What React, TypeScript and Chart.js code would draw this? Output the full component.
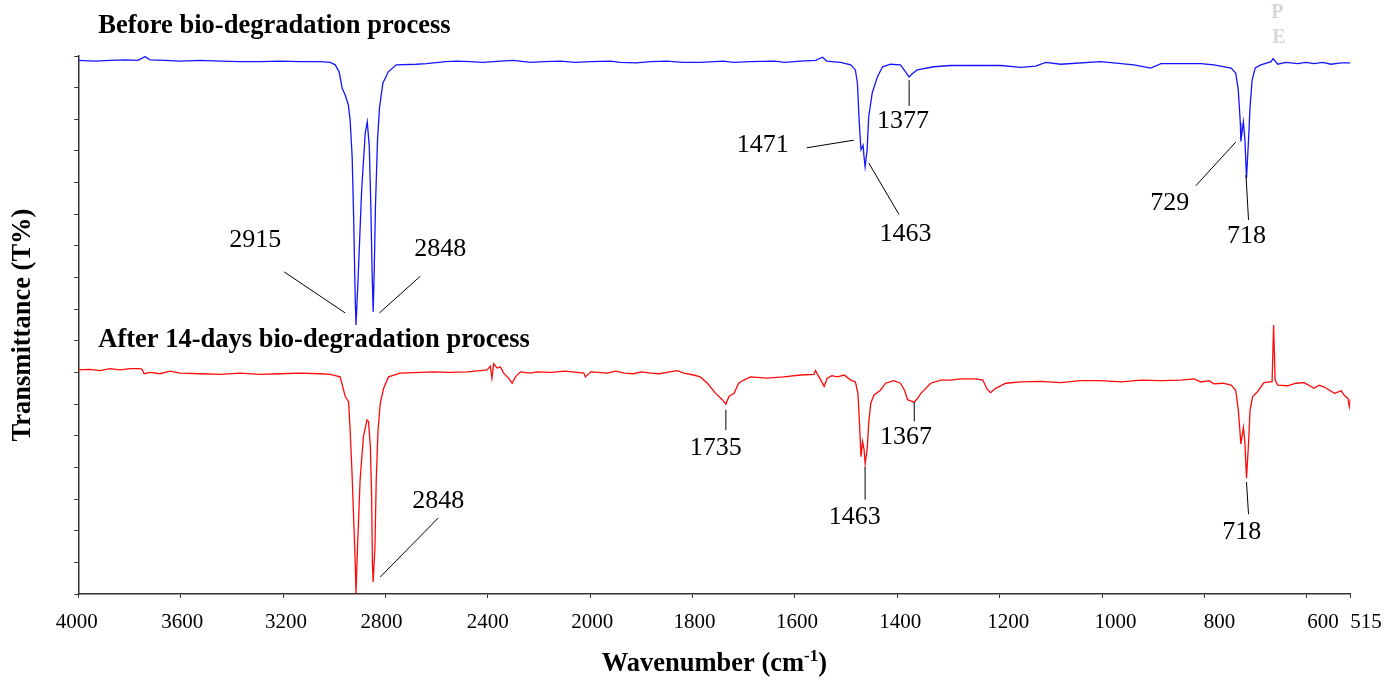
import React, { useEffect, useRef } from "react";
import { Chart, registerables } from "chart.js";

Chart.register(...registerables);

const SERIF = '"Liberation Serif", "Times New Roman", Times, serif';

// FTIR wavenumber axis: 4000–2000 cm-1 is drawn at half the scale of 2000–515 cm-1
const SPLIT = 2000;
const toAxis = (w: number) => (w >= SPLIT ? 4000 - w : 2000 + (SPLIT - w) * 2);
const fromAxis = (u: number) => (u <= 2000 ? 4000 - u : SPLIT - (u - 2000) / 2);

const xTickLabels = [4000, 3600, 3200, 2800, 2400, 2000, 1800, 1600, 1400, 1200, 1000, 800, 600, 515];
// horizontal nudge (px) of each tick label relative to its tick mark
const xTickLabelNudge = [-1.5, 1.5, 3, -4, 0, 2, 2, 2, 3, 8.5, 13.5, 15, 16, 15.5];

const panelTitles = ["Before bio-degradation process", "After 14-days bio-degradation process"];

// Spectrum before bio-degradation (wavenumber, transmittance)
const beforeWavenumber = [
  4000, 3935, 3876, 3817, 3767, 3739, 3720, 3661, 3602, 3524, 3446, 3368, 3290, 3211, 3133, 3055, 3016,
  2996, 2981, 2969, 2957, 2945, 2938, 2930, 2924, 2918, 2915, 2906, 2893, 2879, 2871, 2863, 2857, 2852,
  2848, 2844, 2839, 2831, 2823, 2810, 2789, 2758, 2680, 2640, 2613, 2590, 2566, 2520, 2468, 2420, 2351,
  2300, 2234, 2180, 2116, 2060, 2000, 1960, 1941, 1910, 1882, 1850, 1820, 1785, 1740, 1720, 1687, 1640,
  1620, 1589, 1560, 1546, 1538, 1511, 1491, 1482, 1478, 1475, 1472, 1471, 1467, 1465, 1463,
  1459, 1456, 1449, 1439, 1429, 1413, 1394, 1384, 1377, 1371, 1361, 1329, 1296, 1198, 1159, 1130, 1110,
  1081, 1003, 938, 905, 885, 846, 807, 782, 748, 739, 734, 730, 729, 724, 721, 718, 714, 711, 707, 701,
  690, 670, 666, 657, 641, 618, 602, 586, 569, 553, 533, 515,
];
const beforeTransmittance = [
  84.3, 84.2, 84.3, 84.4, 84.3, 84.9, 84.4, 84.3, 84.2, 84.3, 84.2, 84.1, 84.1, 84.2, 84.1, 84.1, 84.0,
  83.6, 82.5, 79.9, 78.8, 77.3, 74.9, 69.0, 59.1, 46.5, 42.5, 50.7, 63.8, 72.8, 74.6, 70.6, 61.1, 50.7,
  44.6, 50.7, 61.3, 71.7, 76.9, 80.7, 82.5, 83.6, 83.7, 83.8, 83.9, 84.0, 84.1, 84.2, 84.1, 84.0, 84.2,
  84.3, 84.0, 84.1, 84.2, 84.0, 84.1, 84.2, 84.0, 83.9, 84.1, 84.2, 84.0, 84.0, 84.2, 84.0, 84.1, 84.2,
  84.0, 84.2, 84.3, 84.8, 84.2, 84.0, 83.6, 82.8, 80.7, 75.4, 71.3, 70.2, 70.9, 69.0, 67.5,
  70.2, 75.4, 79.2, 81.7, 83.3, 83.7, 83.6, 82.5, 81.7, 82.2, 82.8, 83.3, 83.5, 83.5, 83.2, 83.4, 84.0,
  83.7, 84.1, 83.6, 83.1, 83.8, 83.8, 83.8, 83.6, 83.1, 82.3, 79.6, 74.4, 71.5, 74.6, 71.7, 65.7, 71.7,
  77.0, 81.2, 83.1, 83.6, 84.1, 84.6, 83.7, 84.0, 83.8, 84.0, 83.8, 84.0, 83.7, 83.9, 83.9,
];

// Spectrum after 14 days of bio-degradation (wavenumber, transmittance)
const afterWavenumber = [
  4000, 3954, 3915, 3876, 3837, 3798, 3759, 3751, 3743, 3720, 3681, 3641, 3602, 3524, 3446, 3368, 3290,
  3211, 3133, 3055, 3016, 2977, 2957, 2944, 2938, 2931, 2925, 2918, 2915, 2909, 2899, 2886, 2872, 2866,
  2859, 2854, 2851, 2848, 2841, 2836, 2829, 2820, 2807, 2788, 2742, 2664, 2613, 2547, 2481, 2429, 2403,
  2390, 2384, 2377, 2364, 2351, 2338, 2319, 2305, 2292, 2273, 2234, 2208, 2156, 2097, 2025, 2019, 1999,
  1985, 1967, 1950, 1934, 1915, 1900, 1882, 1865, 1850, 1830, 1817, 1798, 1785, 1771, 1755, 1742, 1735,
  1729, 1719, 1710, 1700, 1687,
  1654, 1622, 1589, 1563, 1560, 1553, 1543, 1537, 1528, 1517, 1504, 1491, 1482, 1477, 1474, 1471, 1468,
  1465, 1463, 1459, 1456, 1452, 1446, 1433, 1423, 1407, 1394, 1386, 1380, 1374, 1367, 1360, 1354, 1335,
  1315, 1296, 1276, 1247, 1233, 1225, 1218, 1208, 1188, 1159, 1120, 1081, 1042, 1003, 963, 924, 885, 846,
  820, 807, 791, 782, 764, 748, 739, 734, 730, 729, 724, 721, 718, 714, 711, 706, 696, 684, 673, 668, 665,
  662, 657, 638, 621, 605, 586, 576, 566, 546, 533, 527, 520, 517, 515,
];
const afterTransmittance = [
  35.4, 35.5, 35.3, 35.6, 35.4, 35.6, 35.6, 35.5, 34.8, 35.0, 34.8, 35.2, 34.9, 34.8, 34.7, 34.9, 34.7,
  34.8, 34.9, 34.8, 34.7, 34.3, 31.2, 30.4, 25.9, 19.6, 12.8, 4.9, 0.1, 7.5, 18.0, 24.9, 27.5, 27.2,
  23.3, 15.4, 4.9, 1.9, 7.5, 18.0, 25.9, 30.2, 32.5, 34.3, 34.9, 35.0, 35.1, 35.0, 35.1, 35.3, 35.4,
  36.0, 34.1, 36.4, 35.7, 35.9, 34.9, 34.1, 33.3, 34.3, 35.1, 34.9, 35.1, 35.0, 35.2, 34.9, 34.3, 35.1,
  35.0, 34.9, 35.2, 34.9, 34.8, 35.1, 34.9, 34.8, 35.0, 35.3, 34.9, 34.6, 34.3, 33.3, 31.7, 30.7, 30.0,
  31.2, 31.7, 33.3, 33.8, 34.3,
  34.1, 34.3, 34.6, 34.7, 35.3, 34.3, 32.8, 34.1, 34.5, 34.3, 34.6, 33.8, 33.5, 31.7, 27.0, 21.7, 24.1,
  22.8, 20.6, 22.8, 27.0, 30.1, 31.4, 32.2, 33.3, 33.7, 33.3, 32.2, 30.7, 30.5, 30.3, 31.0, 31.7, 33.3,
  33.8, 33.8, 34.0, 34.0, 33.8, 32.4, 31.8, 32.5, 33.3, 33.5, 33.6, 33.4, 33.7, 33.7, 33.5, 33.8, 33.7, 33.8,
  34.0, 33.5, 33.7, 33.2, 33.3, 33.0, 32.2, 29.1, 24.9, 23.7, 26.3, 23.8, 18.3, 23.8, 29.1, 31.2, 32.0, 33.4, 33.5, 33.5, 42.5,
  33.8, 33.0, 32.9, 33.3, 33.4, 32.5, 33.0, 32.7, 31.7, 32.1, 31.4, 30.9, 29.6, 30.8,
];

// Band assignments marked on each spectrum
const beforePeaks = [2915, 2848, 1471, 1463, 1377, 729, 718];
const afterPeaks = [2848, 1735, 1463, 1367, 718];

// Callout layout in data units: label centre and leader line [from, to] as [wavenumber, T]
type Callout = { at: [number, number]; line: [[number, number], [number, number]] };
const beforeCallouts: Callout[] = [
  { at: [3309, 55.9], line: [[3196, 50.9], [2957, 44.4]] },
  { at: [2586, 54.5], line: [[2664, 50.2], [2824, 44.4]] },
  { at: [1663, 70.9], line: [[1577, 70.5], [1485, 71.7]] },
  { at: [1384, 56.9], line: [[1456, 68.1], [1397, 60.0]] },
  { at: [1389, 74.7], line: [[1377, 81.2], [1377, 77.1]] },
  { at: [868, 61.8], line: [[817, 64.5], [739, 71.4]] },
  { at: [718, 56.6], line: [[719, 66.2], [714, 59.1]] },
];
const afterCallouts: Callout[] = [
  { at: [2594, 14.7], line: [[2820, 2.7], [2594, 12.0]] },
  { at: [1755, 23.1], line: [[1735, 29.1], [1735, 25.9]] },
  { at: [1483, 12.2], line: [[1463, 20.1], [1463, 14.9]] },
  { at: [1383, 24.7], line: [[1367, 30.3], [1367, 27.3]] },
  { at: [727, 9.8], line: [[718, 17.7], [714, 12.6]] },
];

const toPoints = (ws: number[], ts: number[]) => ws.map((w, i) => ({ x: toAxis(w), y: ts[i] }));

const overlayPlugin = {
  id: "ftirOverlay",
  afterDatasetsDraw(chart: any) {
    const { ctx, chartArea: area } = chart;
    const xs = chart.scales.x;
    const ys = chart.scales.y;
    const px = (w: number) => xs.getPixelForValue(toAxis(w));
    const py = (v: number) => ys.getPixelForValue(v);

    ctx.save();

    // wavenumber tick labels
    ctx.fillStyle = "#000";
    ctx.font = `21px ${SERIF}`;
    ctx.textAlign = "center";
    ctx.textBaseline = "alphabetic";
    xs.ticks.forEach((t: any, i: number) => {
      const label = String(Math.round(fromAxis(t.value)));
      ctx.fillText(label, xs.getPixelForValue(t.value) + (xTickLabelNudge[i] || 0), area.bottom + 33.5);
    });

    // peak callouts
    const drawCallouts = (peaks: number[], callouts: Callout[]) => {
      peaks.forEach((p, i) => {
        const c = callouts[i];
        ctx.strokeStyle = "#000";
        ctx.lineWidth = 1;
        ctx.beginPath();
        ctx.moveTo(px(c.line[0][0]), py(c.line[0][1]));
        ctx.lineTo(px(c.line[1][0]), py(c.line[1][1]));
        ctx.stroke();
        ctx.fillStyle = "#000";
        ctx.font = `26px ${SERIF}`;
        ctx.textAlign = "center";
        ctx.textBaseline = "middle";
        ctx.fillText(String(p), px(c.at[0]), py(c.at[1]));
      });
    };
    drawCallouts(beforePeaks, beforeCallouts);
    drawCallouts(afterPeaks, afterCallouts);

    // panel titles
    ctx.fillStyle = "#000";
    ctx.font = `bold 26.5px ${SERIF}`;
    ctx.textAlign = "left";
    ctx.textBaseline = "alphabetic";
    ctx.fillText(panelTitles[0], area.left + 20, area.top - 23);
    ctx.fillText(panelTitles[1], area.left + 20, area.top + 291);

    // faint "PE" mark
    ctx.fillStyle = "#d6d6d6";
    ctx.font = `bold 20px ${SERIF}`;
    ctx.textAlign = "center";
    ctx.textBaseline = "middle";
    ctx.fillText("P", area.right - 73, area.top - 43);
    ctx.fillText("E", area.right - 71.5, area.top - 18);

    // y axis title
    ctx.fillStyle = "#000";
    ctx.font = `bold 26.5px ${SERIF}`;
    ctx.save();
    ctx.translate(area.left - 55, (area.top + area.bottom) / 2);
    ctx.rotate(-Math.PI / 2);
    ctx.textAlign = "center";
    ctx.textBaseline = "middle";
    ctx.fillText("Transmittance (T%)", 0, 0);
    ctx.restore();

    // x axis title with superscript
    const main = "Wavenumber (cm";
    const sup = "-1";
    const close = ")";
    ctx.font = `bold 26.5px ${SERIF}`;
    const wMain = ctx.measureText(main).width;
    const wClose = ctx.measureText(close).width;
    ctx.font = `bold 17px ${SERIF}`;
    const wSup = ctx.measureText(sup).width;
    const total = wMain + wSup + wClose;
    let x0 = (area.left + area.right) / 2 - total / 2;
    const base = area.bottom + 77;
    ctx.textAlign = "left";
    ctx.textBaseline = "alphabetic";
    ctx.font = `bold 26.5px ${SERIF}`;
    ctx.fillText(main, x0, base);
    x0 += wMain;
    ctx.font = `bold 17px ${SERIF}`;
    ctx.fillText(sup, x0, base - 10);
    x0 += wSup;
    ctx.font = `bold 26.5px ${SERIF}`;
    ctx.fillText(close, x0, base);

    ctx.restore();
  },
};

export default function App() {
  const canvasRef = useRef<HTMLCanvasElement | null>(null);

  useEffect(() => {
    if (!canvasRef.current) return;
    const chart = new Chart(canvasRef.current, {
      type: "line",
      data: {
        datasets: [
          {
            label: "Before",
            data: toPoints(beforeWavenumber, beforeTransmittance),
            borderColor: "rgb(20,20,255)",
            borderWidth: 1.3,
            pointRadius: 0,
            tension: 0,
            fill: false,
          },
          {
            label: "After 14 days",
            data: toPoints(afterWavenumber, afterTransmittance),
            borderColor: "rgb(255,10,10)",
            borderWidth: 1.3,
            pointRadius: 0,
            tension: 0,
            fill: false,
          },
        ],
      },
      options: {
        responsive: false,
        animation: false,
        events: [],
        layout: { padding: { top: 56, right: 49.6, left: 0, bottom: 0 } },
        plugins: { legend: { display: false }, tooltip: { enabled: false } },
        scales: {
          x: {
            type: "linear",
            min: 0,
            max: toAxis(515),
            afterBuildTicks: (scale: any) => {
              scale.ticks = xTickLabels.map((w) => ({ value: toAxis(w) }));
            },
            afterFit: (scale: any) => {
              scale.height = 87;
            },
            ticks: { display: false, autoSkip: false, maxRotation: 0, minRotation: 0 },
            grid: { drawOnChartArea: false, drawTicks: true, tickLength: 4, color: "#333", lineWidth: 1 },
            border: { display: true, color: "#333", width: 1.5 },
          },
          y: {
            min: 0,
            max: 85,
            afterFit: (scale: any) => {
              scale.width = 78.3;
            },
            ticks: { stepSize: 5, display: false },
            grid: { drawOnChartArea: false, drawTicks: true, tickLength: 4, color: "#333", lineWidth: 1 },
            border: { display: true, color: "#333", width: 1.5 },
          },
        },
      },
      plugins: [overlayPlugin],
    });
    return () => chart.destroy();
  }, []);

  return (
    <canvas
      ref={canvasRef}
      width={1400}
      height={681}
      style={{ display: "block", position: "absolute", left: 0, top: 0 }}
    />
  );
}
